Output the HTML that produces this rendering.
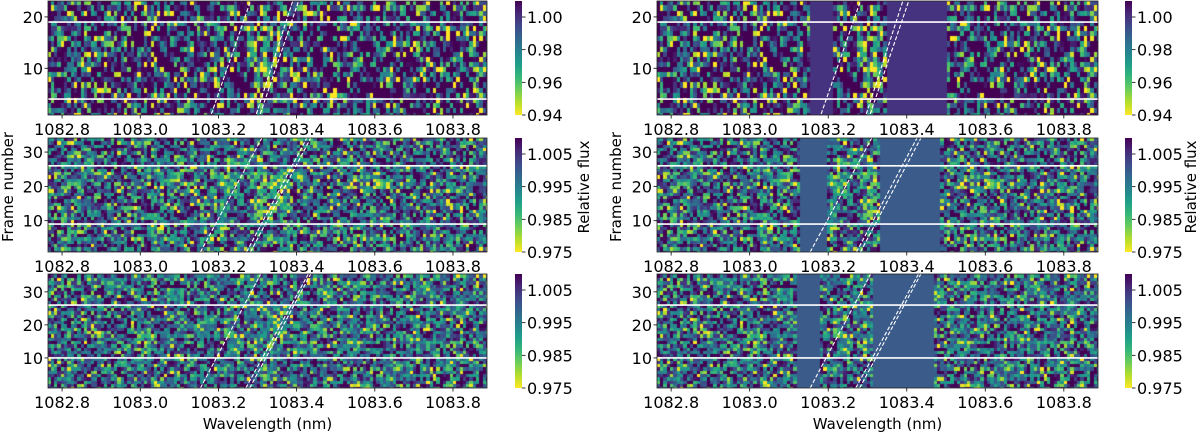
<!DOCTYPE html>
<html><head><meta charset="utf-8">
<style>
html,body{margin:0;padding:0;background:#fff;}
#wrap{position:relative;width:1200px;height:433px;overflow:hidden;font-family:"DejaVu Sans","Liberation Sans",sans-serif;}
canvas{position:absolute;}
svg{position:absolute;left:0;top:0;}
</style></head>
<body>
<div id="wrap">
<svg id="ov" width="1200" height="433"></svg>
</div>
<script>
// ---- data arrays ----
const xTicks = [1082.8, 1083.0, 1083.2, 1083.4, 1083.6, 1083.8];
const xLim = [1082.764, 1083.887];
const yLims = [[0.9, 23.1], [0.87, 34.1], [0.9, 35.4]];
const frameCounts = [23, 34, 35];
const yTicks = [[10, 20], [10, 20, 30], [10, 20, 30]];
const cLims = [[0.94, 1.0098], [0.975, 1.0099], [0.975, 1.0099]];
const cTicks = [[0.94, 0.96, 0.98, 1.00], [0.975, 0.985, 0.995, 1.005], [0.975, 0.985, 0.995, 1.005]];
const cTickLabels = [["0.94", "0.96", "0.98", "1.00"], ["0.975", "0.985", "0.995", "1.005"], ["0.975", "0.985", "0.995", "1.005"]];
const whiteLines = [[4, 19], [9, 26], [10, 26]];
// baseline flux and scatter per panel
const baseFlux = [1.0, 0.9985, 0.998];
const scatter = [0.06, 0.02, 0.019];
// absorption feature: [wlStart, wlEnd, frameStart, frameEnd, depth]
const feature = [[1083.27, 1083.39, 4, 19, 0.015], [1083.29, 1083.38, 12, 24, 0.007], [1083.28, 1083.37, 14, 27, 0.004]];
// dashed lines: [wl at frame lo, frame lo, wl at frame hi, frame hi]
const dashA = [[1083.182, 1.1, 1083.282, 23.1], [1083.154, 0.87, 1083.311, 34.1], [1083.154, 0.9, 1083.308, 35.4]];
const dashB1 = [[1083.297, 1.1, 1083.390, 23.1], [1083.272, 0.87, 1083.426, 34.1], [1083.270, 0.9, 1083.430, 35.4]];
const dashB2 = [[1083.307, 1.1, 1083.405, 23.1], [1083.282, 0.87, 1083.436, 34.1], [1083.280, 0.9, 1083.436, 35.4]];
// masked intervals in right column (wl ranges)
const masks = [[[1083.154, 1083.211], [1083.350, 1083.505]], [[1083.128, 1083.195], [1083.330, 1083.490]], [[1083.118, 1083.179], [1083.314, 1083.470]]];
const maskColors = ["#46337f", "#3b5b8b", "#3b5b8b"];
const cellWidthNm = 0.0085;

// ---- layout ----
const cols = [{x0: 48, x1: 487, cb: 515, right: false}, {x0: 657, x1: 1098, cb: 1125, right: true}];
const rows = [[1, 115], [138, 252], [274, 388]];

const viridis = [[68,1,84],[72,40,120],[62,74,137],[49,104,142],[38,130,142],[31,158,137],[53,183,121],[109,205,89],[180,222,44],[253,231,37]];
function vir(t){ // t 0 = yellow (low), 1 = dark (high)
  t = Math.max(0, Math.min(1, 1 - t));
  const f = t * (viridis.length - 1), i = Math.min(viridis.length - 2, Math.floor(f)), r = f - i;
  const a = viridis[i], b = viridis[i + 1];
  return 'rgb(' + a.map((v, k) => Math.round(v + (b[k] - v) * r)).join(',') + ')';
}
function tex(i, j, p){ // deterministic texture for pixel noise
  let h = (i * 374761393 + j * 668265263 + p * 2147483647) | 0;
  h = (h ^ (h >>> 13)) * 1274126177 | 0; h = h ^ (h >>> 16);
  return ((h >>> 0) % 10000) / 10000;
}
const NS = 'http://www.w3.org/2000/svg';
const ov = document.getElementById('ov');
const wrap = document.getElementById('wrap');
function mk(tag, attrs, parent){
  const e = document.createElementNS(NS, tag);
  for (const k in attrs) e.setAttribute(k, attrs[k]);
  (parent || ov).appendChild(e); return e;
}
function txt(s, x, y, size, anchor, extra){
  const t = mk('text', Object.assign({x: x, y: y, 'font-size': size, 'text-anchor': anchor || 'middle', fill: '#000', 'font-family': '"DejaVu Sans","Liberation Sans",sans-serif'}, extra || {}));
  t.textContent = s; return t;
}

cols.forEach((c, ci) => {
  rows.forEach((r, pi) => {
    const W = c.x1 - c.x0, H = r[1] - r[0];
    const xs = wl => c.x0 + (wl - xLim[0]) / (xLim[1] - xLim[0]) * W;
    const ys = f => r[1] - (f - yLims[pi][0]) / (yLims[pi][1] - yLims[pi][0]) * H;
    const cs = v => (v - cLims[pi][0]) / (cLims[pi][1] - cLims[pi][0]);
    const cv = document.createElement('canvas');
    cv.width = W; cv.height = H;
    cv.style.left = c.x0 + 'px'; cv.style.top = r[0] + 'px';
    
    
    wrap.insertBefore(cv, ov);
    const g = cv.getContext('2d');
    const nCols = Math.ceil((xLim[1] - xLim[0]) / cellWidthNm);
    const fe = feature[pi];
    for (let f = 1; f <= frameCounts[pi]; f++) {
      for (let k = 0; k < nCols; k++) {
        const wl = xLim[0] + k * cellWidthNm;
        let mean = baseFlux[pi];
        if (wl >= fe[0] && wl <= fe[1] && f >= fe[2] && f <= fe[3]) mean -= fe[4];
        const u = (tex(k, f, pi) + tex(k + 77, f + 31, pi + 5) + tex(k + 13, f + 91, pi + 9)) / 3 - 0.5;
        let v = mean + scatter[pi] * u * 3.4;
        let col = vir(cs(v));
        if (c.right) for (const m of masks[pi]) if (wl + cellWidthNm / 2 >= m[0] && wl + cellWidthNm / 2 <= m[1]) col = maskColors[pi];
        const xa = xs(wl) - c.x0, xb = xs(wl + cellWidthNm) - c.x0;
        const ya = ys(f + 0.5) - r[0], yb = ys(f - 0.5) - r[0];
        g.fillStyle = col;
        g.fillRect(Math.floor(xa), Math.floor(ya), Math.ceil(xb - xa) + 1, Math.ceil(yb - ya) + 1);
      }
    }
    const grp = mk('g', { });
    mk('defs', {}, grp).innerHTML = '<clipPath id="cp' + ci + pi + '"><rect x="' + c.x0 + '" y="' + r[0] + '" width="' + W + '" height="' + H + '"/></clipPath>';
    const inner = mk('g', {'clip-path': 'url(#cp' + ci + pi + ')'}, grp);
    whiteLines[pi].forEach(f => {
      const l = mk('line', {x1: c.x0, x2: c.x1, y1: ys(f), y2: ys(f), stroke: '#fff', 'stroke-width': 1.6}, inner);
      
      
    });
    [dashA[pi], dashB1[pi], dashB2[pi]].forEach(d => {
      const l = mk('line', {x1: xs(d[0]), y1: ys(d[1]), x2: xs(d[2]), y2: ys(d[3]), stroke: '#fff', 'stroke-width': 1.1, 'stroke-dasharray': '4,2'}, inner);
      
      
    });
    mk('rect', {x: c.x0, y: r[0], width: W, height: H, fill: 'none', stroke: '#222', 'stroke-width': 0.8}, grp);
    xTicks.forEach(t => {
      const x = xs(t);
      mk('line', {x1: x, x2: x, y1: r[1], y2: r[1] + 3.5, stroke: '#000', 'stroke-width': 0.8}, grp);
      const tt = txt(t.toFixed(1), x, r[1] + 20, 16);
      
      
    });
    yTicks[pi].forEach(t => {
      const y = ys(t);
      mk('line', {x1: c.x0 - 3.5, x2: c.x0, y1: y, y2: y, stroke: '#000', 'stroke-width': 0.8}, grp);
      const tt = txt(String(t), c.x0 - 5, y + 6, 16, 'end');
      
      
    });
    // colorbar
    const cbg = mk('g', { });
    const gid = 'gr' + ci + pi;
    const stops = viridis.map((v, i) => '<stop offset="' + (i / (viridis.length - 1)) + '" stop-color="rgb(' + v.join(',') + ')"/>').join('');
    mk('defs', {}, cbg).innerHTML = '<linearGradient id="' + gid + '" x1="0" y1="0" x2="0" y2="1">' + stops + '</linearGradient>';
    mk('rect', {x: c.cb, y: r[0], width: 7, height: H, fill: 'url(#' + gid + ')'}, cbg);
    cTicks[pi].forEach((t, i) => {
      const y = r[1] - (t - cLims[pi][0]) / (cLims[pi][1] - cLims[pi][0]) * H;
      mk('line', {x1: c.cb + 7, x2: c.cb + 10.5, y1: y, y2: y, stroke: '#000', 'stroke-width': 0.8}, cbg);
      const tt = txt(cTickLabels[pi][i], c.cb + 12, y + 6, 16, 'start');
      
      
    });
  });
  const xl = txt('Wavelength (nm)', (c.x0 + c.x1) / 2, 429, 15);
  
  
  const yx = c.right ? 621 : 13;
  const yl = txt('Frame number', yx, 187, 15, 'middle', {transform: 'rotate(-90 ' + yx + ' 187)'});
  
  
  const rx = c.right ? 1196 : 589;
  const rl = txt('Relative flux', rx, 187, 15, 'middle', {transform: 'rotate(-90 ' + rx + ' 187)'});
  
  
});
</script>
</body></html>
